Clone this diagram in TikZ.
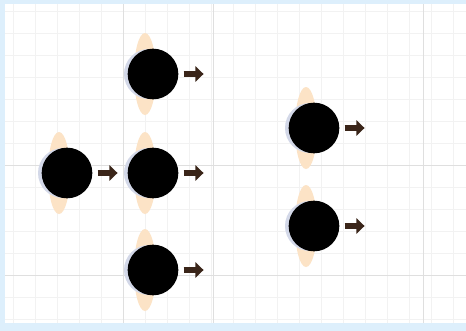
\documentclass[tikz,border=0pt]{standalone}
\usetikzlibrary{positioning,arrows.meta}
\definecolor{frameblue}{HTML}{DDEFFC}
\definecolor{peach}{HTML}{FCE3C6}
\definecolor{halo}{HTML}{D3D8E8}
\definecolor{tipbrown}{HTML}{3A2519}
\begin{document}
\begin{tikzpicture}[x=0.03cm, y=-0.03cm,
    ball/.style={circle, fill=black, minimum size=1.52cm, inner sep=0pt},
    stub/.style={line width=5.2pt, tipbrown, shorten <=0.15cm,
                 -{Triangle[length=7pt, width=13pt]}},
    minor/.style={gray!10, line width=0.5pt},
    major/.style={gray!25, line width=0.6pt}]
  \useasboundingbox (0,0) rectangle (466,331);
  % frame and sheet
  \fill[frameblue] (0,0) rectangle (466,331);
  \fill[white] (5,4) rectangle (466,323);
  % grid
  \foreach \gx in {13,35,...,461} \draw[minor] (\gx,4) -- (\gx,323);
  \foreach \gy in {11,33,...,321} \draw[minor] (5,\gy) -- (466,\gy);
  \foreach \gx in {123,213,423} \draw[major] (\gx,4) -- (\gx,323);
  \foreach \gy in {165,275} \draw[major] (5,\gy) -- (466,\gy);
  % balls, each with its glow and a short push to the right
  \foreach \n/\bx/\by in {1/67/173, 2/153/74, 3/153/173, 4/153/270,
                          5/314/128, 6/314/226} {
    \fill[peach] (\bx-8,\by) ellipse (11 and 41);
    \fill[halo] (\bx-4,\by) circle (25);
    \node[ball] (c\n) at (\bx,\by) {};
    \coordinate[right=0.75cm of c\n] (a\n);
    \draw[stub] (c\n) -- (a\n);
  }
\end{tikzpicture}
\end{document}
